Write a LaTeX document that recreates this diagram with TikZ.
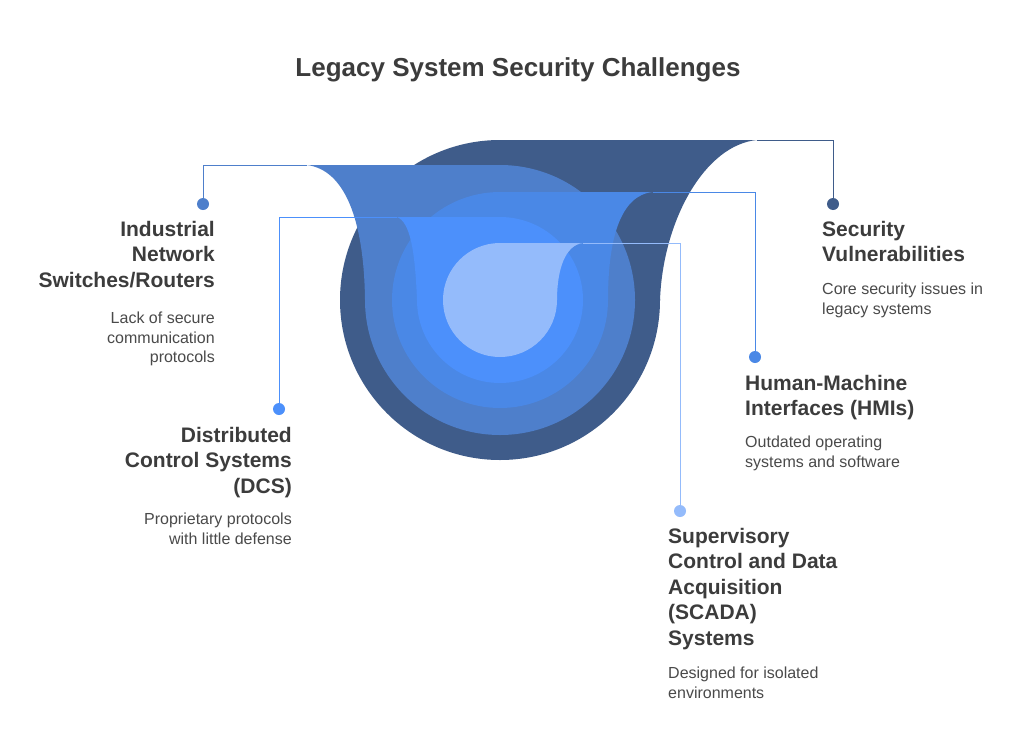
\documentclass[tikz,border=0pt]{standalone}
\usepackage{fontspec}
\setmainfont{Liberation Sans}
\definecolor{cA}{HTML}{3F5C8A}
\definecolor{cB}{HTML}{4E7FCB}
\definecolor{cC}{HTML}{4A88E6}
\definecolor{cD}{HTML}{4C90FB}
\definecolor{cE}{HTML}{94BBFB}
\definecolor{tx}{HTML}{3C3C3C}
\definecolor{ds}{HTML}{4A4A4A}
\begin{document}
\begin{tikzpicture}[x=1pt,y=-1pt,
  hd/.style={inner sep=0pt,font=\fontsize{21}{25.5}\selectfont\bfseries,text=tx},
  dsc/.style={inner sep=0pt,font=\fontsize{16}{19.5}\selectfont,text=ds},
  dot/.style={circle,inner sep=0pt,minimum size=12pt},
  ln/.style={line width=1pt}]
\useasboundingbox (0,0) rectangle (1024,755);
\fill[white] (0,0) rectangle (1024,755);
\node[font=\fontsize{26}{30}\selectfont\bfseries,text=tx] (title) at (518,70) {Legacy System Security Challenges};
% shapes
\fill[cA] (500,300) circle[radius=160];
\fill[cA] (500,140) -- (757,140) .. controls (705,145) and (663,220) .. (660,300) -- (500,300) -- cycle;
\fill[cB] (500,300) circle[radius=135];
\fill[cB] (307,165) -- (500,165) -- (500,300) -- (365,300) .. controls (364,220) and (345,170) .. cycle;
\fill[cC] (500,300) circle[radius=108];
\fill[cC] (500,192) -- (653,192) .. controls (620,195) and (608,240) .. (608,300) -- (500,300) -- cycle;
\fill[cD] (500,300) circle[radius=83];
\fill[cD] (397,217) -- (500,217) -- (500,300) -- (417,300) .. controls (415,250) and (410,222) .. cycle;
\fill[cE] (500,300) circle[radius=57];
\fill[cE] (500,243) -- (583,243) .. controls (565,245) and (557,270) .. (557,300) -- (500,300) -- cycle;
% dots
\node[dot,fill=cB] (d1) at (203,204) {};
\node[dot,fill=cA] (d2) at (833,204) {};
\node[dot,fill=cC] (d3) at (755,357) {};
\node[dot,fill=cD] (d4) at (279,409) {};
\node[dot,fill=cE] (d5) at (680,511) {};
\coordinate (e1) at (307,165);
\coordinate (e2) at (757,140);
\coordinate (e3) at (653,192);
\coordinate (e4) at (397,217);
\coordinate (e5) at (583,243);
\draw[ln,cB] (d1) |- (e1);
\draw[ln,cA] (d2) |- (e2);
\draw[ln,cC] (d3) |- (e3);
\draw[ln,cD] (d4) |- (e4);
\draw[ln,cE] (d5) |- (e5);
% texts
\node[hd,anchor=north east,align=right] (t1) at (215,221) {Industrial\\Network\\Switches/Routers};
\node[dsc,anchor=north east,align=right] (s1) at (215,312) {Lack of secure\\communication\\protocols};
\node[hd,anchor=north east,align=right] (t4) at (292,427) {Distributed\\Control Systems\\(DCS)};
\node[dsc,anchor=north east,align=right] (s4) at (292,513) {Proprietary protocols\\with little defense};
\node[hd,anchor=north west,align=left] (t2) at (822,221) {Security\\Vulnerabilities};
\node[dsc,anchor=north west,align=left] (s2) at (822,283) {Core security issues in\\legacy systems};
\node[hd,anchor=north west,align=left] (t3) at (745,375) {Human-Machine\\Interfaces (HMIs)};
\node[dsc,anchor=north west,align=left] (s3) at (745,436) {Outdated operating\\systems and software};
\node[hd,anchor=north west,align=left] (t5) at (668,528) {Supervisory\\Control and Data\\Acquisition\\(SCADA)\\Systems};
\node[dsc,anchor=north west,align=left] (s5) at (668,667) {Designed for isolated\\environments};
\end{tikzpicture}
\end{document}
